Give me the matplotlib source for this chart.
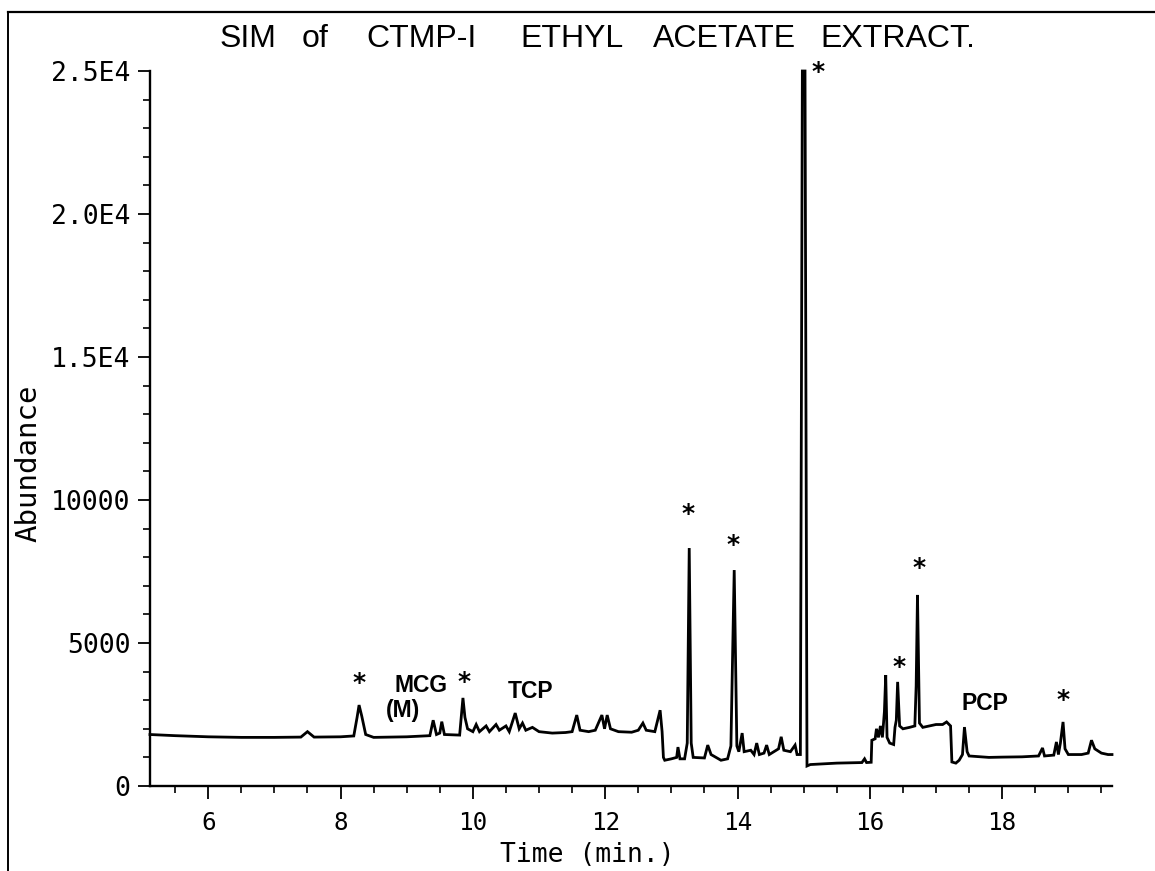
import matplotlib
matplotlib.use("Agg")
import matplotlib.pyplot as plt
from matplotlib.ticker import FixedLocator, MultipleLocator
from matplotlib.lines import Line2D

# ---- data (time in min, abundance) ----
time_min = [
    5.12, 5.5, 6.0, 6.5, 7.0, 7.4, 7.5, 7.6, 8.0, 8.2, 8.25, 8.28, 8.32, 8.38, 8.5,
    9.0, 9.35, 9.40, 9.45, 9.50, 9.53, 9.57, 9.80, 9.85, 9.88, 9.92, 10.0, 10.05,
    10.1, 10.2, 10.25, 10.35, 10.4, 10.5, 10.55, 10.64, 10.7, 10.75, 10.8, 10.9,
    11.0, 11.2, 11.4, 11.5, 11.57, 11.62, 11.75, 11.85, 11.95, 11.99, 12.03, 12.08,
    12.2, 12.4, 12.5, 12.57, 12.62, 12.75, 12.83, 12.86, 12.88,
    12.9, 13.0, 13.08, 13.1, 13.13, 13.2, 13.24, 13.27, 13.30, 13.33, 13.5, 13.55,
    13.6, 13.75, 13.85, 13.9, 13.95, 13.99, 14.02, 14.07, 14.1, 14.2, 14.25, 14.29,
    14.33, 14.4, 14.44, 14.48, 14.55, 14.62, 14.66, 14.7, 14.8, 14.87, 14.9, 14.95,
    14.98, 15.02, 15.05, 15.1, 15.5, 15.88, 15.92, 15.95, 16.02,
    16.03, 16.08, 16.1, 16.13, 16.16, 16.19, 16.22, 16.24, 16.26, 16.3, 16.36,
    16.38, 16.40, 16.42, 16.45, 16.5, 16.6, 16.68, 16.70, 16.72, 16.75, 16.8, 16.9,
    17.0, 17.1, 17.16, 17.22, 17.24, 17.3, 17.35, 17.4, 17.43, 17.47, 17.5, 17.8,
    18.0, 18.3, 18.55, 18.61, 18.64, 18.78, 18.82, 18.85, 18.88, 18.92, 18.95, 19.0,
    19.2, 19.3, 19.35, 19.4, 19.5, 19.6, 19.66,
]
abundance = [
    1800, 1760, 1720, 1700, 1700, 1710, 1900, 1710, 1720, 1750, 2400, 2830, 2450, 1800, 1700,
    1720, 1760, 2300, 1800, 1850, 2250, 1800, 1780, 3080, 2400, 2000, 1900, 2150,
    1900, 2100, 1900, 2150, 1950, 2100, 1900, 2550, 2000, 2200, 1950, 2050,
    1900, 1850, 1870, 1900, 2480, 1950, 1900, 1950, 2480, 2000, 2480, 2000,
    1900, 1880, 1950, 2200, 1950, 1900, 2650, 1900, 1000,
    900, 950, 1000, 1360, 950, 950, 1500, 8320, 1500, 1000, 980, 1430,
    1100, 900, 950, 1400, 7550, 1400, 1200, 1850, 1200, 1250, 1100, 1500,
    1100, 1150, 1430, 1100, 1200, 1300, 1720, 1250, 1200, 1430, 1100, 1100,
    25000, 25000, 700, 750, 800, 820, 950, 820, 830,
    1600, 1650, 2000, 1700, 2100, 1700, 2600, 3880, 1700, 1500, 1450,
    2050, 2300, 3640, 2100, 2000, 2050, 2100, 3500, 6680, 2200, 2050, 2100,
    2150, 2150, 2240, 2100, 840, 800, 900, 1100, 2060, 1200, 1050, 1000,
    1010, 1020, 1050, 1330, 1050, 1080, 1540, 1100, 1500, 2240, 1300, 1100,
    1100, 1150, 1600, 1300, 1150, 1100, 1100,
]

y_ticks = [0, 5000, 10000, 15000, 20000, 25000]
y_tick_labels = ["0", "5000", "10000", "1.5E4", "2.0E4", "2.5E4"]
x_ticks = [6, 8, 10, 12, 14, 16, 18]
x_tick_labels = ["6", "8", "10", "12", "14", "16", "18"]

# annotations: (time, abundance, text)
star_marks = [(8.28, 3600), (9.87, 3650), (13.25, 9500), (13.93, 8430),
              (15.22, 24950), (16.44, 4170), (16.74, 7630), (18.92, 3000)]
compound_labels = [(9.21, 3530, "MCG"), (8.95, 2640, "(M)"), (10.87, 3300, "TCP"),
                   (17.74, 2880, "PCP")]

title_words = ["SIM", "of", "CTMP-I", "ETHYL", "ACETATE", "EXTRACT."]

W, H = 1155, 871
fig = plt.figure(figsize=(W / 100, H / 100), dpi=100)
fig.patch.set_facecolor("white")

ax_l, ax_r, ax_t, ax_b = 150, 1112, 71, 786
ax = fig.add_axes([ax_l / W, 1 - ax_b / H, (ax_r - ax_l) / W, (ax_b - ax_t) / H])

ax.plot(time_min, abundance, color="black", linewidth=2.0, solid_joinstyle="miter",
        clip_on=False)

ax.set_xlim(5.12, 19.66)
ax.set_ylim(0, 25000)

for s in ["top", "right"]:
    ax.spines[s].set_visible(False)
for s in ["left", "bottom"]:
    ax.spines[s].set_linewidth(1.7)

mono = "DejaVu Sans Mono"
ax.yaxis.set_major_locator(FixedLocator(y_ticks))
ax.set_yticklabels(y_tick_labels, fontfamily=mono, fontsize=19)
ax.yaxis.set_minor_locator(MultipleLocator(1000))
ax.xaxis.set_major_locator(FixedLocator(x_ticks))
ax.set_xticklabels(x_tick_labels, fontfamily=mono, fontsize=17.5)
ax.xaxis.set_minor_locator(MultipleLocator(0.5))
ax.tick_params(axis="both", which="major", direction="out", length=9, width=1.3)
ax.tick_params(axis="both", which="minor", direction="out", length=5, width=1.2)
ax.tick_params(axis="y", which="major", pad=5)
ax.tick_params(axis="x", which="major", pad=9)

for t, v in star_marks:
    ax.text(t, v, "*", fontsize=18, fontweight="bold", ha="center", va="center",
            fontfamily="DejaVu Sans", clip_on=False)
for t, v, s in compound_labels:
    ax.text(t, v, s, fontsize=16.5, fontweight="bold", ha="center", va="center",
            fontfamily="Liberation Sans")

# title, word by word (wide spacing of the plotter lettering)
title_x = [220, 302, 366, 520, 653, 820]
for word, xp in zip(title_words, title_x):
    fig.text(xp / W, 1 - 47 / H, word, fontfamily="Liberation Sans", fontsize=23,
             ha="left", va="baseline")

fig.text(587 / W, 1 - 855 / H, "Time (min.)", fontfamily=mono, fontsize=19,
         ha="center", va="center")
fig.text(28 / W, 1 - 463 / H, "Abundance", fontfamily=mono, fontsize=21,
         ha="center", va="center", rotation=90)

# page border lines (top and left)
fig.add_artist(Line2D([8 / W, 1.0], [1 - 12 / H, 1 - 12 / H], color="black", linewidth=1.6))
fig.add_artist(Line2D([8 / W, 8 / W], [0.0, 1 - 12 / H], color="black", linewidth=1.4))

fig.savefig("out.png", dpi=100, facecolor="white")
